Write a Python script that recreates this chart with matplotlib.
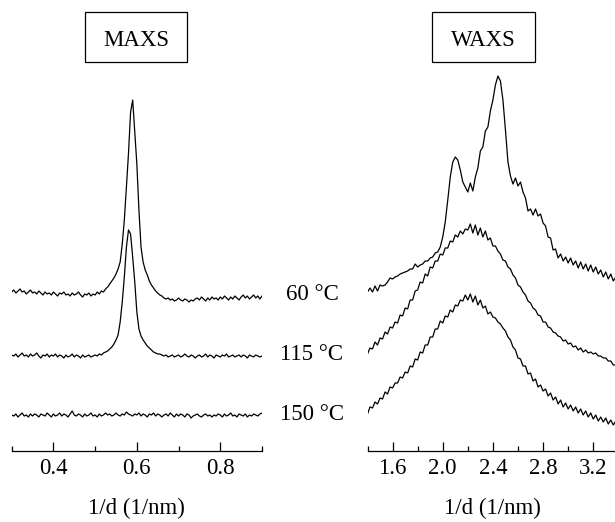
import numpy as np
import matplotlib
matplotlib.use("Agg")
import matplotlib.pyplot as plt
from matplotlib.patches import Rectangle
from matplotlib.ticker import FixedLocator

plt.rcParams['font.family'] = ['Liberation Serif', 'DejaVu Serif']

# ---------------- data ----------------
temperatures = ["60 \u00b0C", "115 \u00b0C", "150 \u00b0C"]
panel_titles = ["MAXS", "WAXS"]
xlabel_text = "1/d (1/nm)"

maxs_x_start, maxs_x_step = 0.300, 0.005
maxs_60 = [
    170, 172, 169, 171, 173, 170, 171, 168, 170, 172,
    169, 170, 168, 171, 169, 167, 170, 168, 169, 167,
    170, 168, 166, 169, 168, 170, 167, 168, 166, 169,
    167, 168, 170, 167, 165, 168, 167, 169, 166, 168,
    167, 170, 168, 171, 170, 173, 175, 178, 181, 184,
    188, 193, 200, 218, 242, 275, 309, 350, 362, 330,
    298, 252, 215, 200, 192, 187, 181, 177, 174, 171,
    169, 167, 166, 164, 163, 164, 162, 163, 161, 162,
    164, 162, 161, 163, 162, 160, 162, 161, 163, 164,
    162, 165, 163, 161, 164, 162, 165, 163, 164, 162,
    165, 163, 166, 164, 162, 165, 163, 166, 164, 162,
    165, 167, 164, 166, 163, 165, 167, 164, 166, 163,
    166]
maxs_115 = [
    107, 106, 108, 105, 107, 109, 106, 107, 105, 108,
    106, 107, 109, 106, 104, 107, 106, 108, 105, 107,
    106, 108, 105, 107, 106, 104, 107, 105, 106, 108,
    105, 107, 106, 104, 107, 105, 106, 107, 105, 106,
    107, 106, 108, 107, 109, 110, 111, 113, 115, 118,
    122, 127, 140, 160, 185, 215, 232, 228, 205, 180,
    150, 133, 126, 122, 119, 116, 114, 112, 110, 109,
    108, 108, 107, 106, 107, 105, 106, 107, 105, 106,
    107, 105, 106, 108, 106, 105, 107, 106, 104, 106,
    107, 105, 106, 108, 105, 107, 106, 104, 107, 106,
    105, 107, 106, 108, 105, 106, 107, 105, 106, 107,
    105, 107, 106, 104, 107, 106, 105, 107, 106, 105,
    106]
maxs_150 = [
    47, 46, 48, 45, 47, 49, 46, 47, 45, 48,
    46, 48, 47, 45, 48, 47, 46, 49, 47, 45,
    48, 46, 47, 49, 46, 48, 47, 45, 48, 51,
    47, 46, 48, 47, 45, 48, 46, 47, 49, 46,
    47, 45, 48, 46, 47, 49, 47, 48, 46, 47,
    49, 47, 46, 48, 47, 50, 48, 47, 46, 48,
    47, 49, 46, 48, 47, 45, 48, 47, 49, 46,
    48, 47, 45, 47, 48, 46, 49, 47, 45, 48,
    46, 48, 47, 45, 48, 47, 44, 46, 47, 48,
    46, 45, 47, 48, 46, 47, 45, 47, 46, 48,
    47, 45, 48, 46, 47, 49, 46, 47, 45, 48,
    47, 46, 48, 45, 47, 46, 48, 47, 46, 48,
    49]

waxs_x_start, waxs_x_step = 1.40, 0.02
waxs_60 = [
    170, 174, 170, 176, 171, 177, 176, 177, 180, 184,
    183, 185, 186, 188, 189, 190, 191, 193, 193, 198,
    195, 197, 198, 201, 201, 204, 205, 209, 210, 215,
    225, 240, 262, 285, 300, 305, 302, 292, 280, 275,
    270, 279, 271, 285, 294, 311, 315, 331, 335, 351,
    362, 377, 386, 381, 362, 332, 300, 286, 278, 284,
    276, 280, 270, 264, 251, 253, 247, 253, 246, 248,
    239, 236, 225, 224, 212, 213, 204, 208, 201, 205,
    199, 204, 197, 201, 194, 200, 193, 198, 191, 197,
    190, 195, 188, 192, 185, 190, 183, 188, 181, 185]
waxs_115 = [
    108, 114, 113, 120, 117, 124, 123, 130, 128, 135,
    134, 140, 139, 147, 146, 154, 153, 162, 162, 171,
    172, 180, 179, 188, 186, 195, 194, 201, 201, 208,
    207, 214, 214, 221, 220, 227, 225, 231, 228, 233,
    232, 238, 229, 237, 227, 234, 225, 231, 222, 224,
    216, 216, 211, 208, 202, 201, 195, 193, 187, 184,
    177, 175, 170, 167, 161, 159, 154, 152, 147, 146,
    140, 140, 135, 134, 130, 129, 126, 125, 121, 122,
    118, 119, 115, 116, 112, 114, 110, 112, 109, 110,
    108, 109, 106, 106, 104, 104, 101, 101, 97, 97]
waxs_150 = [
    48, 55, 54, 60, 58, 64, 63, 70, 68, 75,
    74, 79, 79, 85, 84, 90, 89, 96, 95, 103,
    102, 110, 109, 117, 117, 125, 125, 133, 133, 141,
    139, 146, 145, 152, 150, 157, 156, 162, 161, 167,
    162, 168, 160, 166, 157, 162, 154, 156, 148, 150,
    145, 144, 140, 138, 134, 131, 125, 122, 115, 112,
    104, 103, 96, 96, 88, 89, 81, 83, 75, 77,
    71, 73, 66, 69, 62, 65, 58, 62, 55, 59,
    53, 57, 51, 55, 49, 53, 47, 51, 45, 49,
    43, 47, 41, 45, 40, 44, 38, 42, 37, 41]

maxs_major = [0.4, 0.6, 0.8]
maxs_minor = [0.3, 0.5, 0.7, 0.9]
waxs_major = [1.6, 2.0, 2.4, 2.8, 3.2]
waxs_minor = [1.4, 1.8, 2.2, 2.6, 3.0, 3.4]

# ---------------- figure ----------------
W, H = 615, 522
fig = plt.figure(figsize=(W / 100, H / 100), dpi=100)

axis_y_px = 450.7
top_px = 70.0
bottom = 1 - axis_y_px / H
height = (axis_y_px - top_px) / H
y_lo = 11.3
y_hi = y_lo + (axis_y_px - top_px)

ax1 = fig.add_axes([11.7 / W, bottom, (262.0 - 11.7) / W, height])
ax2 = fig.add_axes([367.5 / W, bottom, (618.3 - 367.5) / W, height])

mx = maxs_x_start + maxs_x_step * np.arange(len(maxs_60))
wx = waxs_x_start + waxs_x_step * np.arange(len(waxs_60))

for ys in (maxs_60, maxs_115, maxs_150):
    ax1.plot(mx, ys, color='black', lw=0.9)
for ys in (waxs_60, waxs_115, waxs_150):
    ax2.plot(wx, ys, color='black', lw=0.9)

ax1.set_xlim(0.3, 0.9)
ax2.set_xlim(1.4, 3.4)

for ax, maj, mnr in ((ax1, maxs_major, maxs_minor), (ax2, waxs_major, waxs_minor)):
    ax.set_ylim(y_lo, y_hi)
    ax.xaxis.set_major_locator(FixedLocator(maj))
    ax.xaxis.set_minor_locator(FixedLocator(mnr))
    ax.set_xticklabels([f"{v:.1f}" for v in maj])
    for s in ('left', 'right', 'top'):
        ax.spines[s].set_visible(False)
    ax.spines['bottom'].set_linewidth(0.9)
    ax.set_yticks([])
    ax.tick_params(axis='x', which='major', direction='in', length=6.5,
                   width=0.9, labelsize=16.5, pad=5)
    ax.tick_params(axis='x', which='minor', direction='in', length=3.4,
                   width=0.9)
    ax.set_xlabel(xlabel_text, fontsize=16.5, labelpad=14)
    ax.patch.set_alpha(0)

# temperature labels
for lab, ypx in zip(temperatures, [295, 355, 415]):
    fig.text(312 / W, 1 - ypx / H, lab, ha='center', va='center', fontsize=16.5)

# panel title boxes
for title, (x0, x1) in zip(panel_titles, [(85.0, 186.7), (432.3, 535.0)]):
    fig.patches.append(Rectangle((x0 / W, 1 - 61.7 / H), (x1 - x0) / W, 50.0 / H,
                                 transform=fig.transFigure, fill=False,
                                 edgecolor='black', lw=0.9))
    fig.text((x0 + x1) / 2 / W, 1 - 46.0 / H, title, ha='center', va='baseline',
             fontsize=16.5)

fig.savefig("out.png", dpi=100)
